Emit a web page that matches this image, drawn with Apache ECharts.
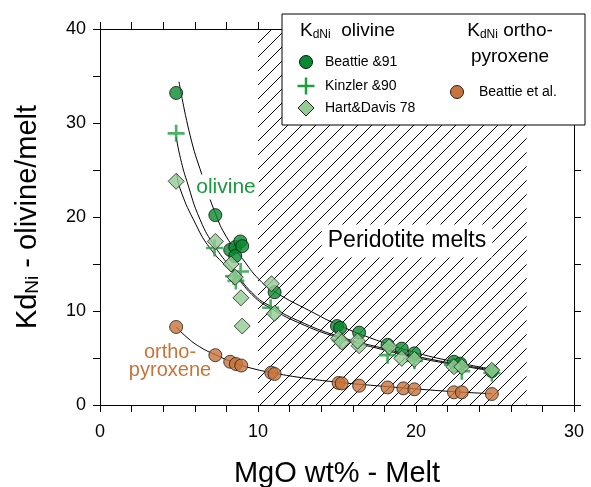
<!DOCTYPE html>
<html><head><meta charset="utf-8">
<script src="https://cdn.jsdelivr.net/npm/echarts@6/dist/echarts.min.js"></script>
<style>html,body{margin:0;padding:0;background:#fff}#c{width:591px;height:487px}</style>
</head><body><div id="c"></div>
<script>
// ---- data (MgO wt%, Kd) ----
const beattie91 = [[4.82,33.2],[7.3,20.2],[8.24,16.5],[8.56,16.8],[8.56,15.85],[8.88,17.4],[9.0,16.9],[11.05,12.0],[15.0,8.4],[15.2,8.2],[16.4,7.7],[18.2,6.4],[19.1,6.0],[19.9,5.5],[22.4,4.6],[22.8,4.4],[24.8,3.6]];
const kinzler90 = [[4.82,28.9],[7.25,16.7],[8.45,13.7],[8.9,14.2],[8.6,13.2],[10.8,10.35],[15.2,6.9],[18.2,5.3],[19.9,4.7],[22.3,4.3],[22.9,3.6],[24.8,3.4]];
const hartDavis78 = [[4.82,23.8],[7.3,17.4],[8.29,15.0],[8.56,13.6],[8.92,11.4],[9.0,8.4],[10.85,12.9],[11.05,9.75],[15.1,7.1],[15.3,6.7],[16.4,6.3],[16.3,6.8],[18.3,6.2],[19.1,4.96],[19.9,4.86],[22.4,4.07],[22.9,4.07],[24.8,3.7]];
const opxBeattie = [[4.82,8.3],[7.3,5.3],[8.24,4.6],[8.6,4.36],[8.94,4.2],[10.84,3.44],[11.05,3.3],[15.1,2.35],[15.3,2.3],[16.4,2.05],[18.2,1.87],[19.2,1.77],[19.9,1.67],[22.4,1.35],[22.9,1.35],[24.8,1.17]];
// fitted curves
const curveBeattie = [[5.0,34.4],[5.7,28.7],[6.45,24.5],[7.3,20.4],[8.0,17.9],[9.0,15.6],[10.1,13.3],[11.1,12.0],[13.3,10.0],[15.1,8.5],[17.5,6.9],[19.7,5.7],[22.4,4.6],[24.7,3.85]];
const curveKinzler = [[4.82,28.5],[5.1,26.2],[5.5,23.8],[6.34,19.7],[7.3,16.8],[8.5,14.2],[9.83,11.6],[10.8,10.5],[12.5,9.0],[15.1,7.3],[18.0,6.0],[20.0,5.2],[22.4,4.4],[24.7,3.75]];
const curveHartDavis = [[4.85,24.6],[5.07,23.0],[5.92,19.7],[7.0,16.6],[8.5,13.9],[9.83,11.4],[10.8,10.3],[12.5,8.8],[15.1,7.15],[18.0,5.85],[20.0,5.05],[22.4,4.3],[24.7,3.65]];
const curveOpx = [[4.82,8.3],[5.5,7.2],[6.3,6.2],[7.3,5.35],[8.5,4.5],[9.5,3.95],[11.0,3.4],[13.0,2.85],[15.2,2.4],[17.5,2.05],[19.9,1.72],[22.4,1.42],[24.8,1.2]];
const peridotiteRange = [10, 27];
const xRange = [0, 30], yRange = [0, 40];

const FONT = '"Liberation Sans", Arial, sans-serif';
const GREEN = '#0a8a30', CROSS = '#1f9e3c', LIGHT = '#94cc94', ORANGE = '#c8733a';
const PLUS = 'path://M6.75,0H9.25V6.75H16V9.25H9.25V16H6.75V9.25H0V6.75H6.75Z';

const chart = echarts.init(document.getElementById('c'), null, {renderer: 'canvas'});

function axisX(pos, show) {
  return {
    type: 'value', position: pos, min: xRange[0], max: xRange[1], interval: 10,
    axisLine: {show: true, onZero: false, lineStyle: {color: '#000', width: 1}},
    axisTick: {show: true, length: 7, lineStyle: {color: '#000'}},
    minorTick: {show: true, splitNumber: 5, length: 7, lineStyle: {color: '#000'}},
    axisLabel: {show: show, fontSize: 18, color: '#000', fontFamily: FONT, margin: 18},
    splitLine: {show: false}, minorSplitLine: {show: false}
  };
}
function axisY(pos, show) {
  return {
    type: 'value', position: pos, min: yRange[0], max: yRange[1], interval: 10,
    axisLine: {show: true, onZero: false, lineStyle: {color: '#000', width: 1}},
    axisTick: {show: true, length: 7, lineStyle: {color: '#000'}},
    minorTick: {show: true, splitNumber: 2, length: 7, lineStyle: {color: '#000'}},
    axisLabel: {show: show, fontSize: 18, color: '#000', fontFamily: FONT, margin: 14},
    splitLine: {show: false}, minorSplitLine: {show: false}
  };
}
const xb = axisX('bottom', true);
xb.name = 'MgO wt% - Melt'; xb.nameLocation = 'middle'; xb.nameGap = 54;
xb.nameTextStyle = {fontSize: 29, color: '#000', fontFamily: FONT};
const yl = axisY('left', true);
yl.name = '{a|Kd}{s|Ni}{a| - olivine/melt}'; yl.nameLocation = 'middle'; yl.nameGap = 58; yl.nameRotate = 90;
yl.nameTextStyle = {color: '#000', fontFamily: FONT, rich: {
  a: {fontSize: 29, color: '#000', fontFamily: FONT, verticalAlign: 'bottom', lineHeight: 32},
  s: {fontSize: 19, color: '#000', fontFamily: FONT, verticalAlign: 'bottom', lineHeight: 26}
}};

function curve(d) {
  return {type: 'line', data: d, smooth: 0.5, showSymbol: false, symbol: 'none', silent: true,
    lineStyle: {color: '#000', width: 1}, z: 3};
}

const option = {
  animation: false,
  backgroundColor: '#fff',
  grid: {left: 100, right: 17, top: 29, bottom: 82, containLabel: false, outerBoundsMode: 'none'},
  xAxis: [xb, axisX('top', false)],
  yAxis: [yl, axisY('right', false)],
  series: [
    {
      type: 'custom', silent: true, z: 1, data: [peridotiteRange],
      renderItem: function (params, api) {
        const tl = api.coord([api.value(0), yRange[1]]);
        const br = api.coord([api.value(1), yRange[0]]);
        const x0 = tl[0], y0 = tl[1], x1 = br[0], y1 = br[1], H = y1 - y0;
        const children = [];
        const step = 14;
        for (let c = x0 - H; c < x1; c += step) {
          const tmin = Math.max(0, x0 - c), tmax = Math.min(H, x1 - c);
          if (tmin < tmax) children.push({type: 'line', shape: {x1: c + tmin, y1: y1 - tmin, x2: c + tmax, y2: y1 - tmax},
            style: {stroke: '#000', lineWidth: 1}});
        }
        return {type: 'group', children: children};
      }
    },
    curve(curveBeattie), curve(curveKinzler), curve(curveHartDavis), curve(curveOpx),
    {name: 'Beattie &91', type: 'scatter', data: beattie91, symbol: 'circle', symbolSize: 13, z: 4,
      itemStyle: {color: GREEN, borderColor: '#111', borderWidth: 1}},
    {name: 'Kinzler &90', type: 'scatter', data: kinzler90, symbol: PLUS, symbolSize: 17, z: 5,
      itemStyle: {color: CROSS}},
    {name: 'Hart&Davis 78', type: 'scatter', data: hartDavis78, symbol: 'diamond', symbolSize: 16, z: 6,
      itemStyle: {color: LIGHT, borderColor: '#222', borderWidth: 1}},
    {name: 'Beattie et al.', type: 'scatter', data: opxBeattie, symbol: 'circle', symbolSize: 13, z: 4,
      itemStyle: {color: ORANGE, borderColor: '#222', borderWidth: 1}}
  ],
  graphic: [
    {type: 'text', z: 100, x: 226, y: 187, style: {text: 'olivine', font: '21px ' + FONT, fill: '#1a9a3c',
      align: 'center', verticalAlign: 'middle', backgroundColor: '#fff', padding: [2, 3]}},
    {type: 'text', z: 100, x: 170, y: 361, style: {text: 'ortho-\npyroxene', font: '20px ' + FONT, fill: ORANGE,
      align: 'center', verticalAlign: 'middle', lineHeight: 18}},
    {type: 'text', z: 100, x: 407, y: 241, style: {text: 'Peridotite melts', font: '23px ' + FONT, fill: '#000',
      align: 'center', verticalAlign: 'middle', backgroundColor: '#fff', padding: [5, 6]}},
    {type: 'group', z: 200, children: [
      {type: 'rect', shape: {x: 282, y: 14, width: 303, height: 111}, style: {fill: '#fff', stroke: '#000', lineWidth: 1}, z: 200},
      {type: 'text', z: 201, x: 300, y: 31, style: {text: '{b|K}{s|dNi}{b|  olivine}', verticalAlign: 'middle',
        rich: {b: {font: '19px ' + FONT, fill: '#000', verticalAlign: 'bottom'}, s: {font: '12px ' + FONT, fill: '#000', verticalAlign: 'bottom'}}}},
      {type: 'text', z: 201, x: 510, y: 31, style: {text: '{b|K}{s|dNi}{b| ortho-}', align: 'center', verticalAlign: 'middle',
        rich: {b: {font: '19px ' + FONT, fill: '#000', verticalAlign: 'bottom'}, s: {font: '12px ' + FONT, fill: '#000', verticalAlign: 'bottom'}}}},
      {type: 'text', z: 201, x: 510, y: 57, style: {text: 'pyroxene', font: '19px ' + FONT, fill: '#000', align: 'center', verticalAlign: 'middle'}},
      {type: 'circle', z: 201, shape: {cx: 306, cy: 62, r: 6.5}, style: {fill: GREEN, stroke: '#111', lineWidth: 1}},
      {type: 'text', z: 201, x: 325, y: 62, style: {text: 'Beattie &91', font: '14px ' + FONT, fill: '#000', verticalAlign: 'middle'}},
      {type: 'rect', z: 201, shape: {x: 297.5, y: 84.75, width: 17, height: 2.5}, style: {fill: CROSS}},
      {type: 'rect', z: 201, shape: {x: 304.75, y: 77.5, width: 2.5, height: 17}, style: {fill: CROSS}},
      {type: 'text', z: 201, x: 325, y: 86, style: {text: 'Kinzler &90', font: '14px ' + FONT, fill: '#000', verticalAlign: 'middle'}},
      {type: 'polygon', z: 201, shape: {points: [[306, 100], [314, 108], [306, 116], [298, 108]]}, style: {fill: LIGHT, stroke: '#222', lineWidth: 1}},
      {type: 'text', z: 201, x: 325, y: 108, style: {text: 'Hart&Davis 78', font: '14px ' + FONT, fill: '#000', verticalAlign: 'middle'}},
      {type: 'circle', z: 201, shape: {cx: 457, cy: 92, r: 6.5}, style: {fill: ORANGE, stroke: '#222', lineWidth: 1}},
      {type: 'text', z: 201, x: 479, y: 92, style: {text: 'Beattie et al.', font: '14px ' + FONT, fill: '#000', verticalAlign: 'middle'}}
    ]}
  ]
};
chart.setOption(option);
</script>
</body></html>
